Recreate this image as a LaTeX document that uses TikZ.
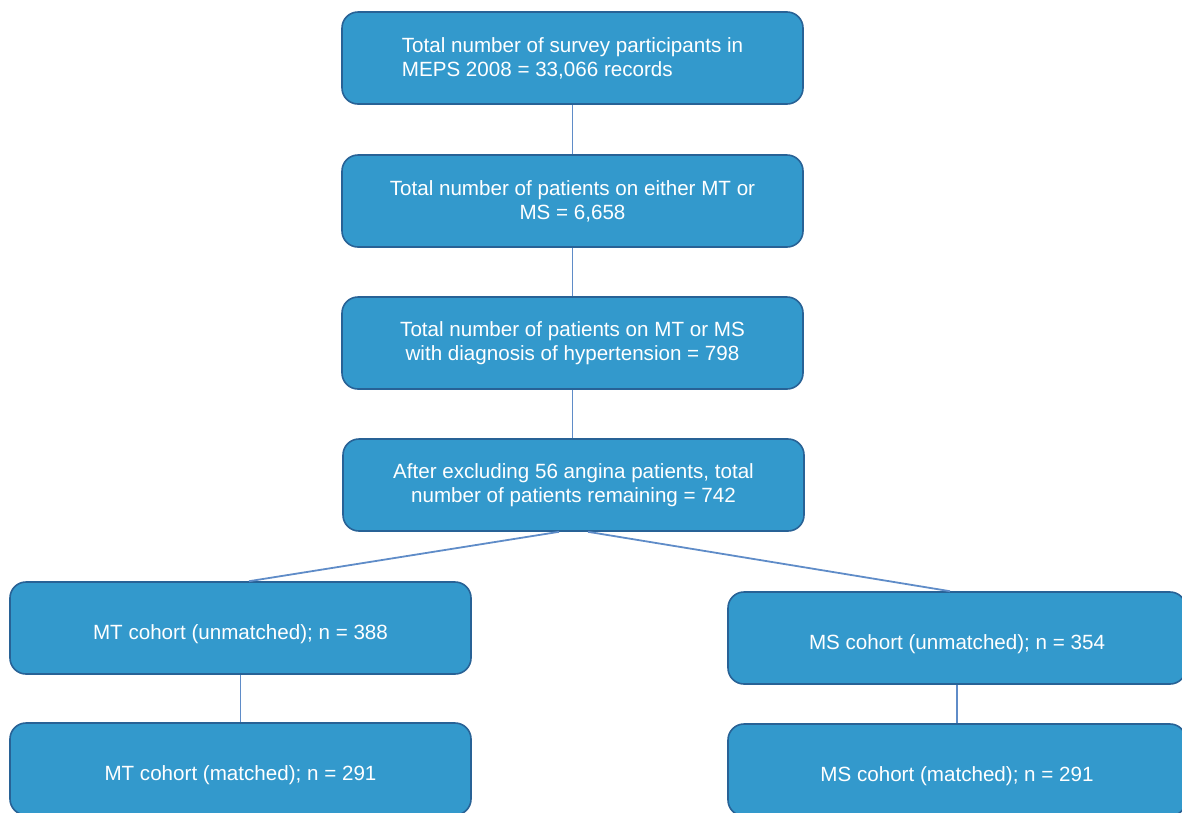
\documentclass[tikz,border=0pt]{standalone}
\usepackage{fontspec}
\setmainfont{Liberation Sans}
\definecolor{boxfill}{RGB}{51,153,204}
\definecolor{boxline}{RGB}{40,98,150}
\definecolor{conn}{RGB}{95,140,200}
\begin{document}
\begin{tikzpicture}[x=1pt,y=-1pt,
  flowbox/.style={draw=boxline, line width=1.6pt, fill=boxfill, rounded corners=16pt,
    minimum width=461pt, minimum height=92pt, text=white, align=center,
    inner sep=0pt, font=\fontsize{20.6}{24}\selectfont},
  oneline/.style={text height=27pt, text depth=4.5pt},
  link/.style={draw=conn, line width=1.8pt}]
\useasboundingbox (0,0) rectangle (1182,812);
\clip (0,0) rectangle (1182,812);
\node[flowbox, align=left] (b1) at (572.5,58) {Total number of survey participants in\\MEPS 2008 = 33,066 records};
\node[flowbox] (b2) at (572.5,201) {Total number of patients on either MT or\\MS = 6,658};
\node[flowbox] (b3) at (572.5,343) {Total number of patients on MT or MS\\with diagnosis of hypertension = 798};
\node[flowbox] (b4) at (573.5,485) {After excluding 56 angina patients, total\\number of patients remaining = 742};
\node[flowbox, oneline] (l1) at (240.5,628) {MT cohort (unmatched); n = 388};
\node[flowbox, oneline] (l2) at (240.5,769) {MT cohort (matched); n = 291};
\node[flowbox, oneline, minimum width=458pt] (r1) at (957,638) {MS cohort (unmatched); n = 354};
\node[flowbox, oneline, minimum width=458pt] (r2) at (957,770) {MS cohort (matched); n = 291};
\draw[link] (b1.south) -- (b2.north);
\draw[link] (b2.south) -- (b3.north);
\draw[link] (b3.south) -- (b3.south |- b4.north);
\draw[link] ([xshift=-14.5pt]b4.south) -- ([xshift=8.5pt]l1.north);
\draw[link] ([xshift=14.5pt]b4.south) -- ([xshift=-7pt]r1.north);
\draw[link] (l1.south) -- (l2.north);
\draw[link] (r1.south) -- (r2.north);
\end{tikzpicture}
\end{document}
